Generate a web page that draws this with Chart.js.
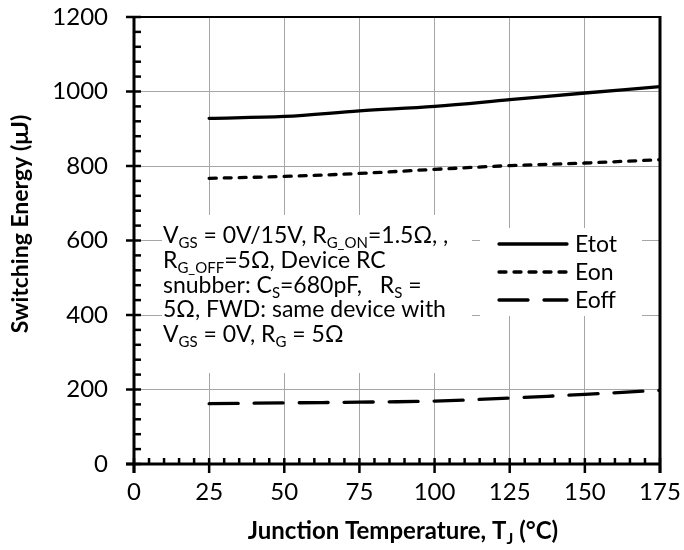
<!DOCTYPE html>
<html><head><meta charset="utf-8">
<script src="https://cdn.jsdelivr.net/npm/chart.js@4.4.0/dist/chart.umd.min.js"></script>
<style>html,body{margin:0;padding:0;background:#fff}#wrap{width:684px;height:550px;position:relative}</style>
</head><body><div id="wrap"><canvas id="c" width="684" height="550"></canvas></div>
<script>
// ---- data ----
const temperatures = [25, 50, 75, 100, 125, 150, 175];
const etot = [928, 933, 948, 960, 978, 996, 1013];
const eon  = [767, 772, 780, 791, 801, 808, 817];
const eoff = [162, 164, 166, 169, 177, 187, 198];
const seriesLabels = ['Etot', 'Eon', 'Eoff'];
const xTickValues = [0, 25, 50, 75, 100, 125, 150, 175];
const yTickValues = [0, 200, 400, 600, 800, 1000, 1200];
const xTitleParts = [['Junction Temperature, T', ''], ['J', 'sub'], [' (°C)', '']];
const yTitle = 'Switching Energy (μJ)';
const noteLines = [
  [['V',''],['GS','sub'],[' = 0V/15V, R',''],['G_ON','sub'],['=1.5Ω, ,','']],
  [['R',''],['G_OFF','sub'],['=5Ω, Device RC','']],
  [['snubber: C',''],['S','sub'],['=680pF,   R',''],['S','sub'],[' =','']],
  [['5Ω, FWD: same device with','']],
  [['V',''],['GS','sub'],[' = 0V, R',''],['G','sub'],[' = 5Ω','']]
];

const FONT = 'Lato, "Noto Sans", sans-serif';
const dashStyles = [[], [7, 8], [29, 16]];

function drawRich(ctx, parts, x, y, size, bold) {
  let cx = x;
  for (const [t, kind] of parts) {
    const s = kind === 'sub' ? Math.round(size * 0.66) : size;
    ctx.font = (bold ? 'bold ' : '') + s + 'px ' + FONT;
    ctx.fillText(t, cx, kind === 'sub' ? y + size * 0.22 : y);
    cx += ctx.measureText(t).width;
  }
  return cx - x;
}
function richWidth(ctx, parts, size, bold) {
  let w = 0;
  for (const [t, kind] of parts) {
    const s = kind === 'sub' ? Math.round(size * 0.66) : size;
    ctx.font = (bold ? 'bold ' : '') + s + 'px ' + FONT;
    w += ctx.measureText(t).width;
  }
  return w;
}

const decor = {
  id: 'decor',
  beforeDatasetsDraw(chart) {
    const ctx = chart.ctx;
    ctx.save();
    ctx.fillStyle = '#fff';
    ctx.fillRect(162, 215, 310, 158);   // note box
    ctx.fillRect(480, 228, 162, 88);    // legend box
    ctx.restore();
  },
  afterDatasetsDraw(chart) {
    const ctx = chart.ctx;
    const xs = chart.scales.x, ys = chart.scales.y;
    const a = chart.chartArea;
    ctx.save();
    ctx.strokeStyle = '#000';
    ctx.lineCap = 'butt';
    // frame
    ctx.lineWidth = 2;
    ctx.beginPath(); ctx.moveTo(a.left, a.top); ctx.lineTo(a.right, a.top); ctx.stroke();
    ctx.lineWidth = 3;
    ctx.beginPath();
    ctx.moveTo(a.left, a.top - 1); ctx.lineTo(a.left, a.bottom + 9);
    ctx.moveTo(a.right, a.top - 1); ctx.lineTo(a.right, a.bottom + 9);
    ctx.moveTo(a.left - 8, a.bottom); ctx.lineTo(a.right + 1.5, a.bottom);
    ctx.stroke();
    // y ticks
    ctx.lineWidth = 2.5;
    for (let v = 0; v <= 1200; v += 40) {
      const p = ys.getPixelForValue(v);
      ctx.beginPath();
      if (v % 200 === 0) { ctx.moveTo(a.left - 8, p); ctx.lineTo(a.left + 7, p); }
      else { ctx.moveTo(a.left, p); ctx.lineTo(a.left + 7, p); }
      ctx.stroke();
    }
    // x ticks
    for (let v = 0; v <= 175; v += 5) {
      const p = xs.getPixelForValue(v);
      ctx.beginPath();
      if (v % 25 === 0) { ctx.moveTo(p, a.bottom - 6); ctx.lineTo(p, a.bottom + 9); }
      else { ctx.moveTo(p, a.bottom); ctx.lineTo(p, a.bottom - 6); }
      ctx.stroke();
    }
    // note text
    ctx.fillStyle = '#000';
    ctx.textBaseline = 'alphabetic';
    ctx.textAlign = 'left';
    const base = [243, 268, 292.5, 317, 341.5];
    noteLines.forEach((ln, i) => drawRich(ctx, ln, 163, base[i], 23, false));
    // legend
    const ly = [244, 272, 300];
    chart.data.datasets.forEach((ds, i) => {
      ctx.lineWidth = 3.3;
      ctx.lineCap = 'round';
      ctx.setLineDash(ds.borderDash || []);
      ctx.beginPath(); ctx.moveTo(499, ly[i]); ctx.lineTo(567, ly[i]); ctx.stroke();
      ctx.setLineDash([]);
      ctx.font = '23px ' + FONT;
      ctx.textBaseline = 'middle';
      ctx.fillText(ds.label, 575, ly[i] + 1);
    });
    // axis titles
    ctx.textBaseline = 'alphabetic';
    const w = richWidth(ctx, xTitleParts, 24, true);
    drawRich(ctx, xTitleParts, 403 - w / 2, 539, 24, true);
    ctx.save();
    ctx.translate(28, 224);
    ctx.rotate(-Math.PI / 2);
    ctx.font = 'bold 23px ' + FONT;
    ctx.textAlign = 'center';
    ctx.fillText(yTitle, 0, 0);
    ctx.restore();
    ctx.restore();
  }
};

const mk = (arr) => temperatures.map((t, i) => ({ x: t, y: arr[i] }));
new Chart(document.getElementById('c'), {
  type: 'line',
  data: {
    datasets: [etot, eon, eoff].map((arr, i) => ({
      label: seriesLabels[i],
      data: mk(arr),
      borderColor: '#000',
      borderWidth: 3.3,
      borderDash: dashStyles[i],
      borderCapStyle: 'round',
      pointRadius: 0,
      tension: 0.35,
      fill: false
    }))
  },
  options: {
    responsive: false,
    animation: false,
    devicePixelRatio: 1,
    layout: { padding: { left: 0, top: 17, right: 24, bottom: 0 } },
    plugins: { legend: { display: false }, tooltip: { enabled: false } },
    scales: {
      x: {
        type: 'linear', min: 0, max: 175,
        afterBuildTicks: (s) => { s.ticks = xTickValues.map(v => ({ value: v })); },
        afterFit: (s) => { s.height = 86; s.paddingLeft = 0; s.paddingRight = 0; },
        ticks: { color: '#000', font: { family: FONT, size: 24 }, padding: 14, maxRotation: 0,
                 callback: (v) => String(v) },
        grid: { color: '#a6a6a6', lineWidth: 1, drawTicks: false },
        border: { display: false }
      },
      y: {
        min: 0, max: 1200,
        afterBuildTicks: (s) => { s.ticks = yTickValues.map(v => ({ value: v })); },
        afterFit: (s) => { s.width = 134; s.paddingTop = 0; s.paddingBottom = 0; },
        ticks: { color: '#000', font: { family: FONT, size: 24 }, padding: 26,
                 callback: (v) => String(v) },
        grid: { color: '#a6a6a6', lineWidth: 1, drawTicks: false },
        border: { display: false }
      }
    }
  },
  plugins: [decor]
});
</script></body></html>
